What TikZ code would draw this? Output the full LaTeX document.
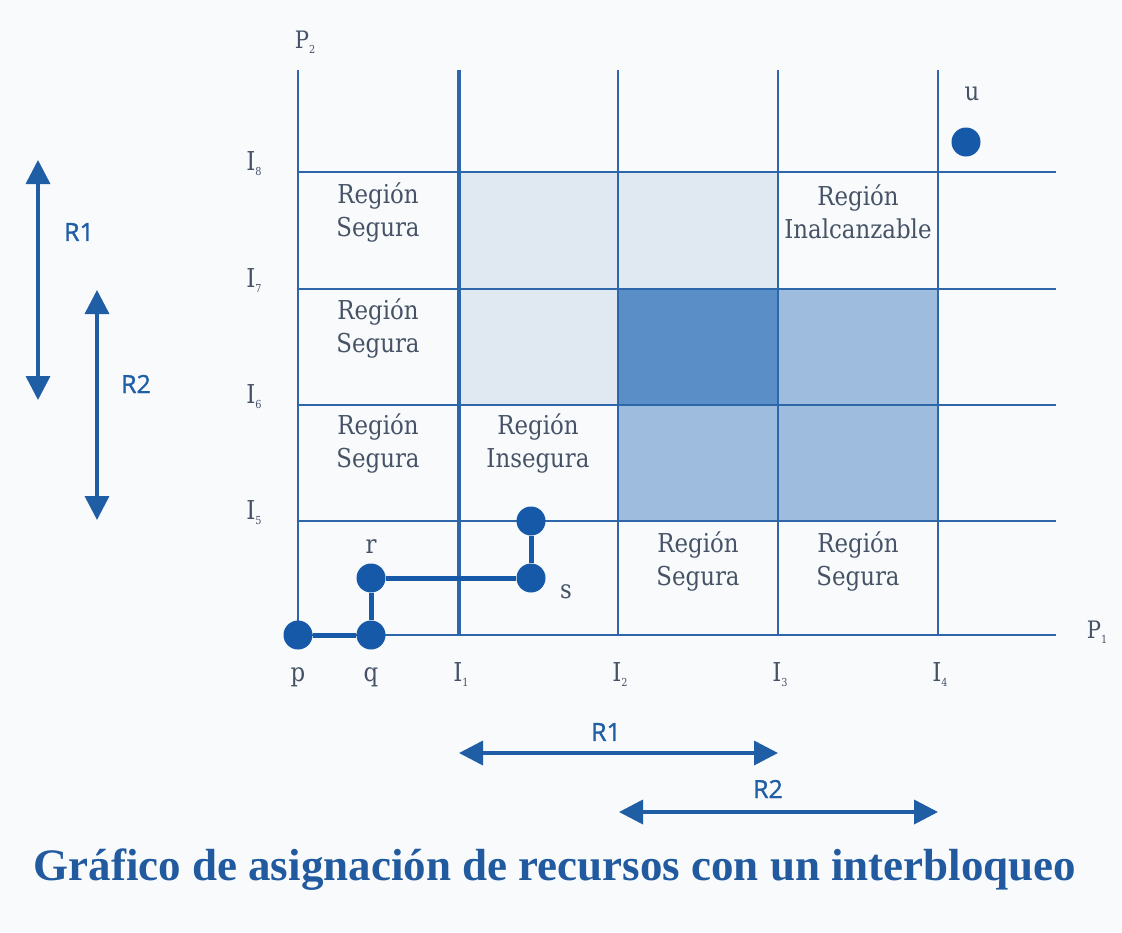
\documentclass[tikz,border=0pt]{standalone}
\usepackage{fontspec}
\setmainfont{Liberation Serif}
\newfontfamily\regfont[FakeStretch=0.88]{DejaVu Serif}
\newfontfamily\rfont[FakeBold=1.2]{Open Sans}
\usetikzlibrary{arrows.meta}
\definecolor{bg}{HTML}{F8FAFC}
\definecolor{gridblue}{HTML}{2E66AA}
\definecolor{dotblue}{HTML}{1659A8}
\definecolor{lightcell}{HTML}{E0E8F2}
\definecolor{medcell}{HTML}{9DBCDE}
\definecolor{darkcell}{HTML}{5A8EC6}
\definecolor{labgrey}{HTML}{465366}
\definecolor{titleblue}{HTML}{215A9E}
\definecolor{rblue}{HTML}{1F5DA5}
\newcommand{\isub}[2]{#1\raisebox{-5pt}{\fontsize{11}{11}\selectfont #2}}
\begin{document}
\begin{tikzpicture}[x=1pt,y=-1pt,
  gridline/.style={draw=gridblue,line width=2.6pt},
  dot/.style={circle,fill=dotblue,inner sep=0pt,minimum size=29pt},
  pathline/.style={draw=dotblue,line width=5pt},
  regtext/.style={font=\regfont\fontsize{26}{33}\selectfont,text=labgrey,align=center},
  axlab/.style={font=\regfont\fontsize{26}{26}\selectfont,text=labgrey,anchor=base},
  resarrow/.style={draw=rblue,line width=3.6pt,{Triangle[length=24pt,width=24pt]}-{Triangle[length=24pt,width=24pt]}},
  rlab/.style={font=\rfont\fontsize{25}{25}\selectfont,text=rblue}]
\useasboundingbox[fill=bg] (0,0) rectangle (1122,932);
% shaded cells
\fill[lightcell] (459,172) rectangle (778,289);
\fill[lightcell] (459,289) rectangle (618,405);
\fill[darkcell] (618,289) rectangle (778,405);
\fill[medcell] (778,289) rectangle (938,405);
\fill[medcell] (618,405) rectangle (938,521);
% grid
\foreach \x in {298,618,778,938} \draw[gridblue,line width=2.6pt] (\x,70) -- (\x,635);
\draw[gridblue,line width=3.6pt] (459,70) -- (459,635);
\foreach \y in {172,289,405,521,635} \draw[gridblue,line width=2.6pt] (298,\y) -- (1056,\y);
% region texts
\node[regtext] (rs1) at (378,212) {Región\\Segura};
\node[regtext] (rs2) at (378,328) {Región\\Segura};
\node[regtext] (rs3) at (378,443) {Región\\Segura};
\node[regtext] (ri) at (538,443) {Región\\Insegura};
\node[regtext] (rs4) at (698,561) {Región\\Segura};
\node[regtext] (rs5) at (858,561) {Región\\Segura};
\node[regtext] (rin) at (858,212) {Región\\Inalcanzable};
% axis labels
\node[axlab,font=\regfont\fontsize{24}{24}\selectfont] (P2) at (305,48) {\isub{P}{2}};
\node[axlab,font=\regfont\fontsize{24}{24}\selectfont] (P1) at (1097,638) {\isub{P}{1}};
\node[axlab] (I8) at (254,170) {\isub{I}{8}};
\node[axlab] (I7) at (254,287) {\isub{I}{7}};
\node[axlab] (I6) at (254,403) {\isub{I}{6}};
\node[axlab] (I5) at (254,519) {\isub{I}{5}};
\node[axlab] (lp) at (298,681) {p};
\node[axlab] (lq) at (371,681) {q};
\node[axlab] (I1) at (461,681) {\isub{I}{1}};
\node[axlab] (I2) at (620,681) {\isub{I}{2}};
\node[axlab] (I3) at (780,681) {\isub{I}{3}};
\node[axlab] (I4) at (940,681) {\isub{I}{4}};
\node[axlab] (lr) at (371,553) {r};
\node[axlab] (ls) at (566,598) {s};
\node[axlab] (lu) at (972,100) {u};
% dots and path
\node[dot] (p) at (298,635) {};
\node[dot] (q) at (371,635) {};
\node[dot] (r) at (371,578) {};
\node[dot] (s) at (531,578) {};
\node[dot] (t) at (531,521) {};
\node[dot] (u) at (966,142) {};
\draw[pathline] (p) -- (q);
\draw[pathline] (q) -- (r);
\draw[pathline] (r) -- (s);
\draw[pathline] (s) -- (t);
% resource arrows
\coordinate (v1a) at (38,160); \coordinate (v1b) at (38,400);
\coordinate (v2a) at (97,290); \coordinate (v2b) at (97,520);
\coordinate (h1a) at (459,753); \coordinate (h1b) at (778,753);
\coordinate (h2a) at (619,812); \coordinate (h2b) at (938,812);
\draw[resarrow] (v1a) -- (v1b);
\draw[resarrow] (v2a) -- (v2b);
\draw[resarrow] (h1a) -- (h1b);
\draw[resarrow] (h2a) -- (h2b);
\node[rlab] (lv1) at (79,232) {R1};
\node[rlab] (lv2) at (136,384) {R2};
\node[rlab] (lh1) at (606,732) {R1};
\node[rlab] (lh2) at (768,789) {R2};
% title
\node[font=\bfseries\fontsize{45}{45}\selectfont,text=titleblue,anchor=base] (title) at (555,880) {Gráfico de asignación de recursos con un interbloqueo};
\end{tikzpicture}
\end{document}
